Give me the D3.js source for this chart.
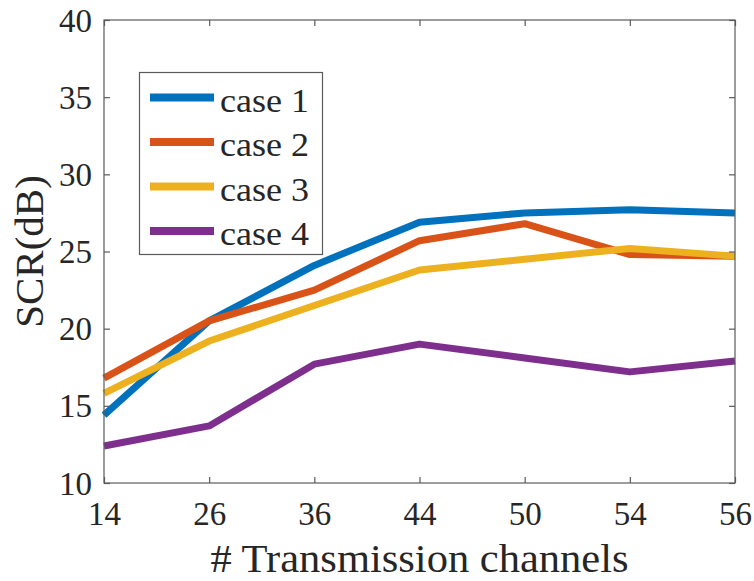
<!DOCTYPE html>
<html>
<head>
<meta charset="utf-8">
<script src="https://cdn.jsdelivr.net/npm/d3@7"></script>
<style>
  html, body { margin: 0; padding: 0; background: #fff; }
  svg { display: block; }
  text { font-family: "Liberation Serif", "Times New Roman", serif; fill: #262626; }
</style>
</head>
<body>
<svg id="chart" width="754" height="581"></svg>
<script>
// Number of transmission channels (categorical x positions)
const channels = ["14", "26", "36", "44", "50", "54", "56"];

// SCR in dB for each case
const case1 = [14.4, 20.5, 24.1, 26.9, 27.5, 27.7, 27.5];
const case2 = [16.8, 20.5, 22.5, 25.7, 26.8, 24.8, 24.7];
const case3 = [15.8, 19.2, 21.5, 23.8, 24.5, 25.2, 24.7];
const case4 = [12.4, 13.7, 17.7, 19.0, 18.1, 17.2, 17.9];

const seriesNames = ["case 1", "case 2", "case 3", "case 4"];
const seriesColors = ["#0072BD", "#D95319", "#EDB120", "#7E2F8E"];
const yTicks = [10, 15, 20, 25, 30, 35, 40];

const series = [case1, case2, case3, case4].map((v, i) => ({
  name: seriesNames[i], color: seriesColors[i], values: v
}));

const serif = '"Liberation Serif", "Times New Roman", serif';
const svg = d3.select("#chart");
const plotLeft = 104, plotRight = 735, plotTop = 20, plotBottom = 483;

const x = d3.scalePoint().domain(channels).range([plotLeft, plotRight]).padding(0);
const y = d3.scaleLinear().domain([10, 40]).range([plotBottom, plotTop]);

const axisColor = "#5a5a5a";

// Data lines
const line = d3.line().x((d, i) => x(channels[i])).y(d => y(d));
svg.append("g").selectAll("path").data(series).join("path")
  .attr("d", d => line(d.values))
  .attr("fill", "none")
  .attr("stroke", d => d.color)
  .attr("stroke-width", 7)
  .attr("stroke-linejoin", "round")
  .attr("stroke-linecap", "butt");

// Axes (ticks point inward, box around plot area)
function styleAxis(g) {
  g.select(".domain").remove();
  g.attr("font-family", null);
  g.selectAll(".tick line").attr("stroke", axisColor).attr("stroke-width", 1.2);
}

svg.append("g").attr("transform", `translate(0,${plotBottom})`)
  .call(d3.axisBottom(x).tickSize(-6).tickPadding(0))
  .call(styleAxis)
  .call(g => g.selectAll(".tick text")
    .attr("y", 42).attr("dy", null)
    .attr("font-size", 33)
    .style("font-family", serif)
    .attr("fill", "#262626"));

svg.append("g").attr("transform", `translate(0,${plotTop})`)
  .call(d3.axisTop(x).tickSize(-6).tickFormat(""))
  .call(styleAxis);

svg.append("g").attr("transform", `translate(${plotLeft},0)`)
  .call(d3.axisLeft(y).tickValues(yTicks).tickSize(-6).tickPadding(0))
  .call(styleAxis)
  .call(g => g.selectAll(".tick text")
    .attr("x", -12).attr("dy", 11)
    .attr("font-size", 33)
    .style("font-family", serif)
    .attr("fill", "#262626"));

svg.append("g").attr("transform", `translate(${plotRight},0)`)
  .call(d3.axisRight(y).tickValues(yTicks).tickSize(-6).tickFormat(""))
  .call(styleAxis);

svg.append("rect")
  .attr("x", plotLeft).attr("y", plotTop)
  .attr("width", plotRight - plotLeft).attr("height", plotBottom - plotTop)
  .attr("fill", "none").attr("stroke", axisColor).attr("stroke-width", 1.2);

// Axis titles
svg.append("text")
  .attr("x", (plotLeft + plotRight) / 2).attr("y", 572)
  .attr("text-anchor", "middle").attr("font-size", 39)
  .attr("textLength", 418).attr("lengthAdjust", "spacingAndGlyphs")
  .style("font-family", serif)
  .text("# Transmission channels");

svg.append("text")
  .attr("transform", `translate(43,${(plotTop + plotBottom) / 2}) rotate(-90)`)
  .attr("text-anchor", "middle").attr("font-size", 41)
  .style("font-family", serif)
  .text("SCR(dB)");

// Legend
const legend = svg.append("g");
legend.append("rect")
  .attr("x", 139.5).attr("y", 72.5).attr("width", 183).attr("height", 182)
  .attr("fill", "#fff").attr("stroke", axisColor).attr("stroke-width", 1.2);
const rowY = d3.scaleLinear().domain([0, 3]).range([97.5, 231]);
const items = legend.selectAll("g.item").data(series).join("g").attr("class", "item")
  .attr("transform", (d, i) => `translate(0,${rowY(i)})`);
items.append("line")
  .attr("x1", 150).attr("x2", 214).attr("y1", 0).attr("y2", 0)
  .attr("stroke", d => d.color).attr("stroke-width", 8);
items.append("text")
  .attr("x", 220).attr("y", 14).attr("font-size", 33)
  .attr("textLength", 89).attr("lengthAdjust", "spacingAndGlyphs")
  .style("font-family", serif)
  .text(d => d.name);
</script>
</body>
</html>
